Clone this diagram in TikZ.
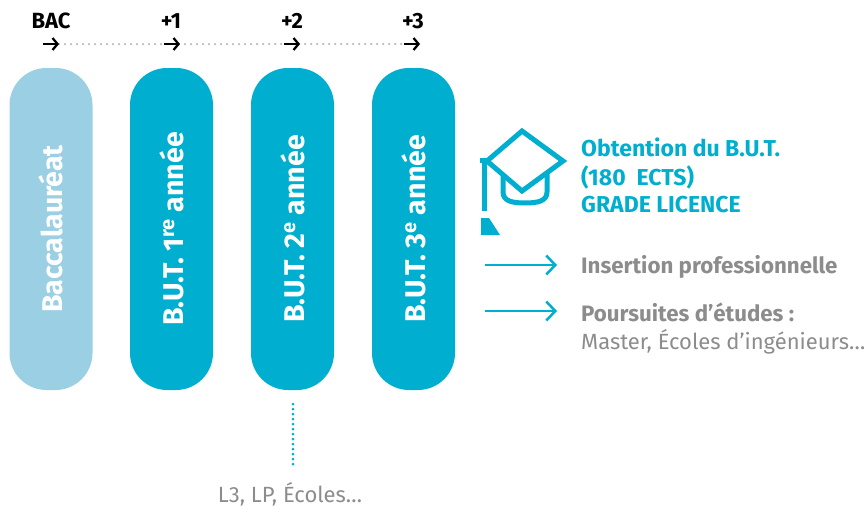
\documentclass[tikz,border=0pt]{standalone}
\usepackage{fontspec}
\setmainfont{Fira Sans}
\usetikzlibrary{calc}
\usetikzlibrary{arrows.meta}
\definecolor{butcyan}{HTML}{00AECF}
\definecolor{baclight}{HTML}{9BCFE3}
\definecolor{txtgray}{HTML}{8C8C8C}
\definecolor{dotgray}{HTML}{BBBBBB}
\tikzset{
  pillbox/.style={shape=rectangle,rotate=90,rounded corners=37pt,minimum width=322pt,minimum height=83pt,inner sep=0pt,text=white,font=\fontsize{28.5}{32}\selectfont\bfseries},
  yearlbl/.style={anchor=base,inner sep=0pt,font=\fontsize{22}{25}\selectfont\bfseries},
  gradetext/.style={anchor=base west,inner sep=0pt,text=butcyan,font=\fontsize{23}{27}\selectfont\bfseries},
  outtext/.style={anchor=base west,inner sep=0pt,text=txtgray,font=\fontsize{22.3}{26}\selectfont\bfseries},
  plaintext/.style={anchor=base west,inner sep=0pt,text=txtgray,font=\fontsize{22}{26}\selectfont},
  blackarr/.style={-{Straight Barb[length=5pt,width=12pt]},line width=2.3pt},
  cyanarr/.style={-{Straight Barb[length=9pt,width=19pt]},line width=2.5pt,butcyan},
  capline/.style={butcyan,line width=5pt}
}
\newcommand{\pill}[4]{\node[pillbox,fill=#2] (#1) at ( #3 , 229 ) {#4};}
\newcommand{\yearlabl}[3]{\node[yearlbl] (#1) at ( #2 , 28 ) {#3};}
\newcommand{\tick}[2]{\coordinate (#1s) at ( #2 - 16 , 44 ); \coordinate (#1t) at ( #2 , 44 );}
\begin{document}
\begin{tikzpicture}[x=1pt,y=-1pt]
        \useasboundingbox (0,0) rectangle (868,509);

        % years
        \yearlabl{bac}{51}{BAC}
        \yearlabl{yr1}{171}{+1}
        \yearlabl{yr2}{292}{+2}
        \yearlabl{yr3}{413}{+3}
        \tick{bac}{59}
        \tick{yr1}{180}
        \tick{yr2}{300}
        \tick{yr3}{420}
        \draw[dotgray,line width=2.5pt,line cap=round,dash pattern=on 0pt off 6pt] (bact) -- (yr3s);
        \draw[blackarr] (bacs) -- (bact);
        \draw[blackarr] (yr1s) -- (yr1t);
        \draw[blackarr] (yr2s) -- (yr2t);
        \draw[blackarr] (yr3s) -- (yr3t);

        % pills
        \pill{bacc}{baclight}{51}{Baccalauréat}
        \pill{but1}{butcyan}{171.5}{B.U.T. 1\textsuperscript{re} année}
        \pill{but2}{butcyan}{292.5}{B.U.T. 2\textsuperscript{e} année}
        \pill{but3}{butcyan}{413.5}{B.U.T. 3\textsuperscript{e} année}

        % cap
        \draw[capline,line join=miter] (522,131) -- (563,161) -- (522,191) -- (487,161) -- cycle;
        \draw[capline] (480,160) -- (484,160) -- (484,211);
        \draw[capline] (503,176) -- (503,192) .. controls (503,201) and (512,203) .. (525,203) .. controls (538,203) and (547,201) .. (547,192) -- (547,173);
        \fill[butcyan] (481,218) -- (489,218) -- (500,235) -- (481,235) -- cycle;

        % degree
        \node[gradetext] (obt1) at (581,156) {Obtention du B.U.T.};
        \node[gradetext] (obt2) at (581,185) {(180\ \ ECTS)};
        \node[gradetext] (obt3) at (581,212) {GRADE LICENCE};

        % outcomes
        \node[outtext] (ins) at (581,273) {Insertion professionnelle};
        \node[outtext] (pours) at (581,321) {Poursuites d’études :};
        \node[plaintext] (master) at (581,349) {Master, Écoles d’ingénieurs…};
        \coordinate (inss) at (485,265);
        \coordinate (inst) at (557,265);
        \coordinate (pourss) at (485,311);
        \coordinate (pourst) at (557,311);
        \draw[cyanarr] (inss) -- (inst);
        \draw[cyanarr] (pourss) -- (pourst);

        % after year 2
        \coordinate (l3top) at (293,404);
        \coordinate (l3bot) at (293,467);
        \draw[butcyan,line width=3pt,line cap=round,dash pattern=on 0pt off 5pt] (l3top) -- (l3bot);
        \node[plaintext,anchor=base] (l3) at (290,502) {L3, LP, Écoles…};
\end{tikzpicture}
\end{document}
